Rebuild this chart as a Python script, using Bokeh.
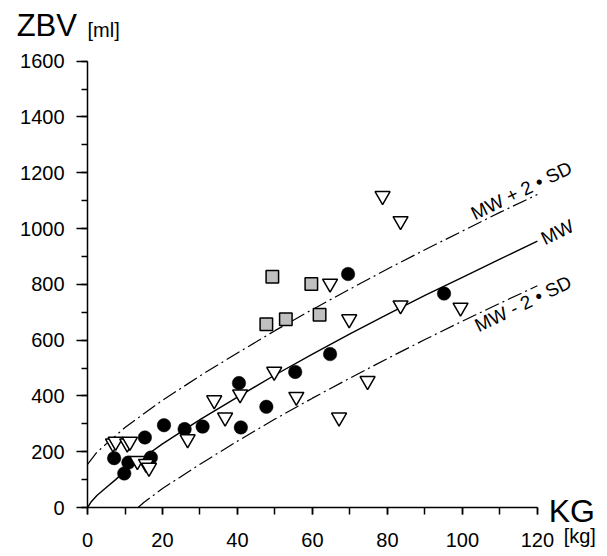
import math
from bokeh.plotting import figure
from bokeh.models import Range1d, SingleIntervalTicker, Label, LinearAxis
from bokeh.core.properties import value
from bokeh.embed import file_html
from bokeh.resources import INLINE

FONT = "Liberation Sans"

# ---- data ----
circle_kg = [7.1, 9.8, 10.9, 16.9, 15.3, 20.4, 25.9, 30.7, 40.4, 40.9, 47.7, 55.4, 64.7, 69.5, 95.1]
circle_ml = [177, 122, 161, 179, 251, 295, 281, 290, 446, 287, 361, 486, 550, 837, 767]

tri_kg = [6.8, 7.5, 10.6, 11.3, 13.3, 15.6, 16.4, 26.7, 33.8, 36.7, 40.7, 49.8, 55.7, 67.1,
          64.7, 69.8, 83.5, 99.5, 74.7, 78.7, 83.5]
tri_ml = [230, 236, 230, 236, 167, 157, 143, 245, 385, 323, 406, 487, 397, 323,
          803, 675, 725, 717, 454, 1117, 1027]

sq_kg = [47.7, 52.9, 61.9, 49.3, 59.7]
sq_ml = [657, 675, 691, 827, 801]

mw_kg = [0, 1, 2.5, 5, 7.5, 10, 15, 20, 30, 40, 50, 60, 70, 80, 90, 100, 110, 120]
mw_ml = [0, 21, 43, 72, 100, 131, 180, 228, 315, 396, 475, 550, 622, 692, 760, 825, 890, 955]

up_kg = [0, 2.5, 5, 7.5, 10, 15, 20, 30, 40, 50, 60, 70, 80, 90, 100, 110, 120]
up_ml = [155, 198, 228, 257, 287, 336, 384, 472, 554, 634, 710, 783, 855, 924, 991, 1058, 1122]

lo_kg = [13.5, 15, 20, 30, 40, 50, 60, 70, 80, 90, 100, 110, 120]
lo_ml = [0, 18, 68, 155, 238, 317, 392, 464, 534, 602, 668, 732, 795]

x_ticks_step = 20
y_ticks_step = 200

p = figure(width=607, height=556,
           x_range=Range1d(-23.21, 138.70), y_range=Range1d(-175.6, 1817.4),
           output_backend="svg", toolbar_location=None,
           x_axis_location=None, y_axis_location=None,
           min_border=0, min_border_left=0, min_border_right=0,
           min_border_top=0, min_border_bottom=0)
p.outline_line_color = None
p.xgrid.visible = False
p.ygrid.visible = False
p.background_fill_color = "white"
p.border_fill_color = "white"

xaxis = LinearAxis(fixed_location=0, bounds=(0, 120),
                   ticker=SingleIntervalTicker(interval=x_ticks_step, num_minor_ticks=2))
yaxis = LinearAxis(fixed_location=0, bounds=(0, 1600),
                   ticker=SingleIntervalTicker(interval=y_ticks_step, num_minor_ticks=2))
for ax in (xaxis, yaxis):
    ax.axis_line_color = "black"
    ax.axis_line_width = 1.5
    ax.major_tick_line_color = "black"
    ax.major_tick_line_width = 1.5
    ax.minor_tick_line_color = "black"
    ax.minor_tick_line_width = 1.5
    ax.major_tick_in = 0
    ax.minor_tick_in = 0
    ax.major_label_text_font = FONT
    ax.major_label_text_font_size = "20px"
    ax.major_label_text_color = "black"

xaxis.major_tick_out = 7
xaxis.minor_tick_out = 7
xaxis.major_label_standoff = 18
yaxis.major_tick_out = 11
yaxis.minor_tick_out = 6
yaxis.major_label_standoff = 12
p.add_layout(xaxis, "below")
p.add_layout(yaxis, "left")

# reference curves
p.line(up_kg, up_ml, line_color="black", line_width=1.2, line_dash="15 4 2 4")
p.line(lo_kg, lo_ml, line_color="black", line_width=1.2, line_dash="15 4 2 4")
p.line(mw_kg, mw_ml, line_color="black", line_width=1.4)

# markers
p.scatter(circle_kg, circle_ml, marker="circle", size=13.5,
          fill_color="black", line_color="black", line_width=0.5)
p.scatter(tri_kg, tri_ml, marker="inverted_triangle", size=15,
          fill_color="white", line_color="black", line_width=1.5)
p.scatter(sq_kg, sq_ml, marker="square", size=12.5,
          fill_color="#c0c0c0", line_color="black", line_width=1.5)

# curve labels
ang = math.radians(26)
p.text(x=[102.6], y=[1050], text=["MW + 2 \u2022 SD"], angle=ang,
       text_font=value(FONT), text_font_size="19px", text_color="black",
       text_baseline="alphabetic", text_align="left")
p.text(x=[121.3], y=[960], text=["MW"], angle=ang,
       text_font=value(FONT), text_font_size="19px", text_color="black",
       text_baseline="alphabetic", text_align="left")
p.text(x=[103.6], y=[648], text=["MW - 2 \u2022 SD"], angle=ang,
       text_font=value(FONT), text_font_size="19px", text_color="black",
       text_baseline="alphabetic", text_align="left")

# axis titles
p.add_layout(Label(x=-18.9, y=1728, text="ZBV", text_font=FONT,
                   text_font_size="31px", text_color="black", text_baseline="alphabetic"))
p.add_layout(Label(x=0.0, y=1713, text="[ml]", text_font=FONT,
                   text_font_size="20px", text_color="black", text_baseline="alphabetic"))
p.add_layout(Label(x=123.0, y=-11, text="KG", text_font=FONT,
                   text_font_size="32px", text_color="black", text_baseline="alphabetic"))
p.add_layout(Label(x=127.0, y=-101, text="[kg]", text_font=FONT,
                   text_font_size="20px", text_color="black", text_baseline="alphabetic"))

open("out.html", "w").write(file_html(p, INLINE))
